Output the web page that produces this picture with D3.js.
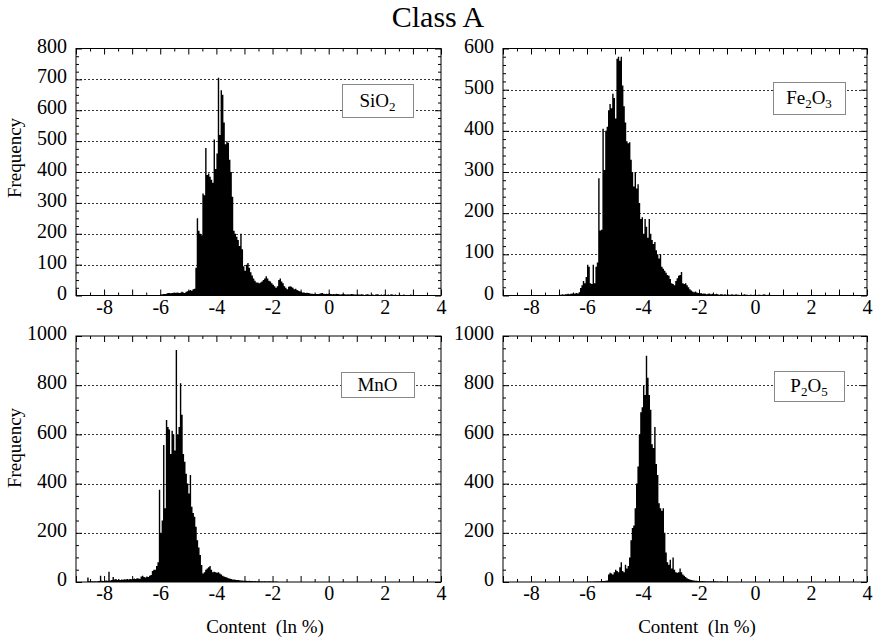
<!DOCTYPE html>
<html>
<head>
<meta charset="utf-8">
<script src="https://cdn.jsdelivr.net/npm/d3@7"></script>
<style>
  body { margin: 0; background: #fff; }
  text { font-family: "Liberation Serif", "Times New Roman", serif; fill: #000; }
</style>
</head>
<body>
<svg id="chart" width="878" height="641"></svg>
<script>
// histogram bins, 0.05 ln-% wide
const binWidth = 0.05;
const xDomain = [-9, 4];
const xTickLabels = [-8, -6, -4, -2, 0, 2, 4];

const sio2Start = -6.0;
const sio2Counts = [
  3, 4, 5, 5, 6, 8, 8, 7, 8, 9, 8, 9, 10, 8, 9, 12, 10, 8, 12, 14,
  15, 18, 15, 20, 22, 90, 250, 210, 200, 195, 330, 325, 478, 390, 395, 385, 375, 365, 505, 410,
  460, 705, 520, 665, 650, 560, 490, 500, 495, 440, 400, 320, 210, 200, 190, 180, 160, 200, 150, 95,
  80, 100, 105, 90, 75, 65, 55, 48, 42, 42, 40, 42, 45, 50, 55, 62, 55, 48, 45, 40,
  35, 30, 25, 30, 50, 55, 45, 40, 30, 25, 20, 28, 30, 28, 25, 20, 22, 18, 15, 14,
  12, 10, 10, 8, 9, 8, 7, 6, 6, 5, 6, 5, 5, 6, 7, 8, 6, 5, 6, 5,
  7, 5, 4, 5, 4, 6, 5, 4, 3, 4, 5, 4, 3, 4, 3, 4, 5, 4, 3, 3,
  4, 3, 3, 4, 3, 2, 3, 4, 3, 2, 3, 3, 2, 3, 4, 3, 2, 3, 2, 3,
  3, 2, 3, 2, 4, 3, 2, 3, 2, 2, 3, 2, 2, 3, 2, 2, 1, 2, 3, 2,
  2, 1, 2, 2, 1, 2, 1, 1, 2, 1, 1, 1
];

const fe2o3Start = -7.0;
const fe2o3Counts = [
  2, 2, 3, 2, 3, 3, 4, 3, 4, 5, 4, 5, 6, 5, 8, 18, 25, 35, 30, 45,
  75, 70, 30, 28, 75, 30, 70, 80, 285, 158, 160, 405, 305, 400, 410, 450, 465, 455, 490, 480,
  430, 575, 580, 570, 580, 510, 460, 420, 375, 370, 372, 330, 300, 265, 300, 260, 270, 225, 186, 190,
  150, 186, 167, 140, 186, 150, 135, 125, 130, 110, 100, 90, 100, 70, 65, 60, 55, 50, 48, 40,
  30, 28, 25, 35, 42, 48, 50, 57, 30, 28, 30, 25, 20, 15, 12, 10, 8, 10, 7, 6,
  5, 6, 4, 5, 4, 3, 4, 5, 3, 4, 3, 3, 4, 3, 2, 3, 3, 2, 3, 2,
  3, 2, 2, 3, 2, 2, 3, 2, 2, 1, 2, 2, 3, 2, 2, 1, 2, 2, 1, 2,
  2, 1, 2, 2, 1, 2, 3, 2, 1, 2, 2, 1, 1, 1, 1, 1
];

const mnoStart = -8.6;
const mnoCounts = [
  18, 3, 2, 3, 2, 3, 2, 3, 4, 25, 5, 4,
  5, 6, 5, 42, 6, 8, 20, 10, 12, 8, 10, 8, 10, 9, 11, 10, 12, 10, 12, 11,
  12, 14, 12, 15, 14, 13, 22, 25, 20, 18, 22, 20, 25, 28, 45, 50, 50, 65, 80, 375,
  200, 250, 557, 300, 659, 630, 620, 520, 615, 600, 535, 943, 600, 630, 808, 680, 520, 489, 440, 400,
  360, 435, 306, 280, 265, 225, 170, 140, 110, 69, 35, 40, 50, 55, 60, 65, 50, 40, 42, 40,
  38, 40, 35, 30, 25, 22, 20, 18, 15, 14, 12, 10, 10, 9, 8, 8, 7, 6, 6, 5,
  5, 5, 4, 5, 4, 4, 3, 4, 3, 3, 3, 2, 3, 2, 3, 2, 2, 3, 2, 2, 2, 1, 2, 1
];

const p2o5Start = -6.0;
const p2o5Counts = [
  1, 1, 2, 1, 2, 2, 2, 3, 2, 3, 3, 4, 4, 5, 6, 30, 38, 35, 30, 40,
  50, 45, 40, 60, 80, 45, 40, 70, 55, 65, 100, 170, 220, 230, 300, 400, 470, 600, 690, 710,
  800, 760, 920, 830, 760, 700, 560, 545, 630, 480, 435, 320, 300, 290, 300, 200, 120, 80, 70, 90,
  55, 100, 50, 40, 38, 40, 55, 40, 30, 25, 20, 15, 12, 10, 8, 7, 6, 5, 5, 4,
  4, 3, 4, 3, 3, 2, 3, 2, 3, 2, 2, 3, 2, 2, 1, 2, 2, 1, 1, 1
];

const yMaxes = [800, 600, 1000, 1000];
const yLabelSteps = [100, 100, 200, 200];
const yMinorSteps = [25, 20, 50, 50];
// legend text: [text, isSubscript]
const legendParts = [
  [['SiO', 0], ['2', 1]],
  [['Fe', 0], ['2', 1], ['O', 0], ['3', 1]],
  [['MnO', 0]],
  [['P', 0], ['2', 1], ['O', 0], ['5', 1]]
];

const panels = [
  { start: sio2Start, counts: sio2Counts, left: 76, right: 441, top: 48.5, bottom: 295.5, box: [342, 84, 71, 33], yTitle: 158, xTitle: null },
  { start: fe2o3Start, counts: fe2o3Counts, left: 503, right: 867, top: 48.5, bottom: 295.5, box: [773, 82, 72, 32], yTitle: null, xTitle: null },
  { start: mnoStart, counts: mnoCounts, left: 76, right: 441, top: 336, bottom: 582, box: [341, 372, 73, 25], yTitle: 448, xTitle: 265 },
  { start: p2o5Start, counts: p2o5Counts, left: 503, right: 867, top: 336, bottom: 582, box: [774, 371, 70, 30], yTitle: null, xTitle: 697 }
];

const serif = 'Liberation Serif, Times New Roman, serif';
const svg = d3.select('#chart');

// d3 axes default to 10px sans-serif; switch to the figure's serif type
function serifAxis(sel) {
  sel.attr('font-family', serif).attr('font-size', 20);
  sel.select('.domain').remove();
  sel.selectAll('text').attr('font-family', serif).attr('font-size', 20);
}

svg.append('text')
  .attr('x', 438).attr('y', 27)
  .attr('text-anchor', 'middle')
  .attr('font-family', serif)
  .attr('font-size', 30)
  .text('Class A');

panels.forEach((p, i) => {
  const x = d3.scaleLinear().domain(xDomain).range([p.left, p.right]);
  const y = d3.scaleLinear().domain([0, yMaxes[i]]).range([p.bottom, p.top]);
  const g = svg.append('g');

  const labelVals = d3.range(0, yMaxes[i] + 1, yLabelSteps[i]);
  const minorVals = d3.range(0, yMaxes[i] + 1, yMinorSteps[i]).filter(v => v % yLabelSteps[i] !== 0);

  // dotted grid
  g.selectAll('.grid')
    .data(labelVals.filter(v => v > 0 && v < yMaxes[i]))
    .enter().append('line')
    .attr('x1', p.left).attr('x2', p.right)
    .attr('y1', d => Math.round(y(d)) + 0.5).attr('y2', d => Math.round(y(d)) + 0.5)
    .attr('stroke', '#333').attr('stroke-width', 1).attr('stroke-dasharray', '2,2');

  // histogram as a step area
  const pts = p.counts.map((c, k) => ({ v: p.start + k * binWidth, c }));
  pts.push({ v: p.start + p.counts.length * binWidth, c: p.counts[p.counts.length - 1] });
  const area = d3.area()
    .x(d => x(d.v))
    .y0(y(0))
    .y1(d => y(d.c))
    .curve(d3.curveStepAfter);
  g.append('path').datum(pts).attr('d', area).attr('fill', '#000');

  // axes, ticks pointing inward
  const xInt = d3.range(-9, 4.001, 1);
  const xHalf = d3.range(-8.5, 4, 1);
  g.append('g').attr('transform', `translate(0,${p.bottom})`)
    .call(d3.axisBottom(x).tickValues(xInt).tickSize(-6).tickPadding(4)
      .tickFormat(d => (xTickLabels.includes(d) ? String(d) : '')))
    .call(serifAxis);
  g.append('g').attr('transform', `translate(0,${p.bottom})`)
    .call(d3.axisBottom(x).tickValues(xHalf).tickSize(-3).tickFormat(''))
    .call(serifAxis);
  g.append('g').attr('transform', `translate(0,${p.top})`)
    .call(d3.axisTop(x).tickValues(xInt).tickSize(-6).tickFormat(''))
    .call(serifAxis);
  g.append('g').attr('transform', `translate(0,${p.top})`)
    .call(d3.axisTop(x).tickValues(xHalf).tickSize(-3).tickFormat(''))
    .call(serifAxis);

  g.append('g').attr('transform', `translate(${p.left},0)`)
    .call(d3.axisLeft(y).tickValues(labelVals).tickSize(-6).tickPadding(9).tickFormat(d3.format('d')))
    .call(serifAxis)
    .selectAll('text').attr('dy', '0.18em');
  g.append('g').attr('transform', `translate(${p.left},0)`)
    .call(d3.axisLeft(y).tickValues(minorVals).tickSize(-3).tickFormat(''))
    .call(serifAxis);
  g.append('g').attr('transform', `translate(${p.right},0)`)
    .call(d3.axisRight(y).tickValues(labelVals).tickSize(-6).tickFormat(''))
    .call(serifAxis);
  g.append('g').attr('transform', `translate(${p.right},0)`)
    .call(d3.axisRight(y).tickValues(minorVals).tickSize(-3).tickFormat(''))
    .call(serifAxis);

  g.append('rect')
    .attr('x', p.left).attr('y', p.top)
    .attr('width', p.right - p.left).attr('height', p.bottom - p.top)
    .attr('fill', 'none').attr('stroke', '#000').attr('stroke-width', 1);

  // legend box
  const [bx, by, bw, bh] = p.box;
  g.append('rect')
    .attr('x', bx + 0.5).attr('y', by + 0.5).attr('width', bw).attr('height', bh)
    .attr('fill', '#fff').attr('stroke', '#888').attr('stroke-width', 1);
  const lt = g.append('text')
    .attr('x', bx + bw / 2).attr('y', by + bh / 2 + 6)
    .attr('text-anchor', 'middle')
    .attr('font-family', serif)
    .attr('font-size', 19);
  legendParts[i].forEach(([s, sub], k) => {
    const ts = lt.append('tspan').text(s);
    if (sub) ts.attr('font-size', 13).attr('dy', 4);
    else if (k > 0) ts.attr('dy', -4);
  });

  if (p.yTitle !== null) {
    svg.append('text')
      .attr('transform', `translate(21,${p.yTitle}) rotate(-90)`)
      .attr('text-anchor', 'middle')
      .attr('font-family', serif)
      .attr('font-size', 19)
      .text('Frequency');
  }
  if (p.xTitle !== null) {
    svg.append('text')
      .attr('x', p.xTitle).attr('y', 633)
      .attr('text-anchor', 'middle')
      .attr('font-family', serif)
      .attr('font-size', 19)
      .style('white-space', 'pre')
      .text('Content  (ln %)');
  }
});
</script>
</body>
</html>
